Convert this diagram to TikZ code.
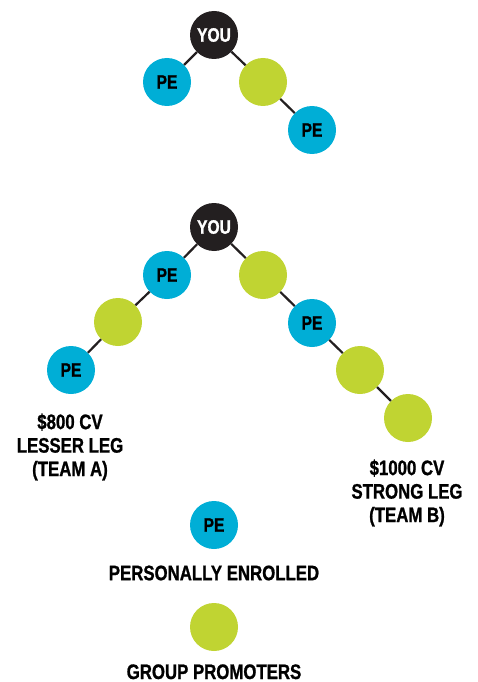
\documentclass[tikz,border=0pt]{standalone}
\usepackage{fontspec}
\setmainfont{Liberation Sans}[FakeStretch=0.8,BoldFeatures={FakeBold=1}]
\definecolor{peblue}{HTML}{00AED6}
\definecolor{gpgreen}{HTML}{C0D432}
\definecolor{youblack}{HTML}{231F20}
\tikzset{
  ball/.style={circle,minimum size=48pt,inner sep=0pt,font=\bfseries\fontsize{19.5}{19.5}\selectfont},
  younode/.style={ball,fill=youblack,text=white},
  penode/.style={ball,fill=peblue},
  gpnode/.style={ball,fill=gpgreen},
  leg/.style={line width=2.2pt,youblack},
  caption/.style={align=center,font=\bfseries\fontsize{21}{23.5}\selectfont}
}
\begin{document}
\begin{tikzpicture}[x=1pt,y=-1pt]
\useasboundingbox (0,0) rectangle (478,682);
% first tree
\node (you1) [younode] at (214,35) {YOU};
\node (pe1) [penode] at (167,82) {PE};
\node (gp1) [gpnode] at (263,82) {};
\node (pe2) [penode] at (312,130) {PE};
\draw[leg] (you1) -- (pe1);
\draw[leg] (you1) -- (gp1) -- (pe2);
% second tree
\node (you2) [younode] at (214,227) {YOU};
\node (pea) [penode] at (167,275) {PE};
\node (gpa) [gpnode] at (118,322) {};
\node (peb) [penode] at (71,370) {PE};
\node (gpb) [gpnode] at (263,275) {};
\node (pec) [penode] at (312,323) {PE};
\node (gpc) [gpnode] at (360,370) {};
\node (gpd) [gpnode] at (408,418) {};
\draw[leg] (you2) -- (pea) -- (gpa) -- (peb);
\draw[leg] (you2) -- (gpb) -- (pec) -- (gpc) -- (gpd);
\node (teama) [caption] at (70,447) {\$800 CV\\LESSER LEG\\(TEAM A)};
\node (teamb) [caption] at (407,493) {\$1000 CV\\STRONG LEG\\(TEAM B)};
% key
\node (pekey) [penode] at (214,525) {PE};
\node (petext) [caption] at (214,573) {PERSONALLY ENROLLED};
\node (gpkey) [gpnode] at (214,627) {};
\node (gptext) [caption,anchor=base] at (214,679) {GROUP PROMOTERS};
\end{tikzpicture}
\end{document}
